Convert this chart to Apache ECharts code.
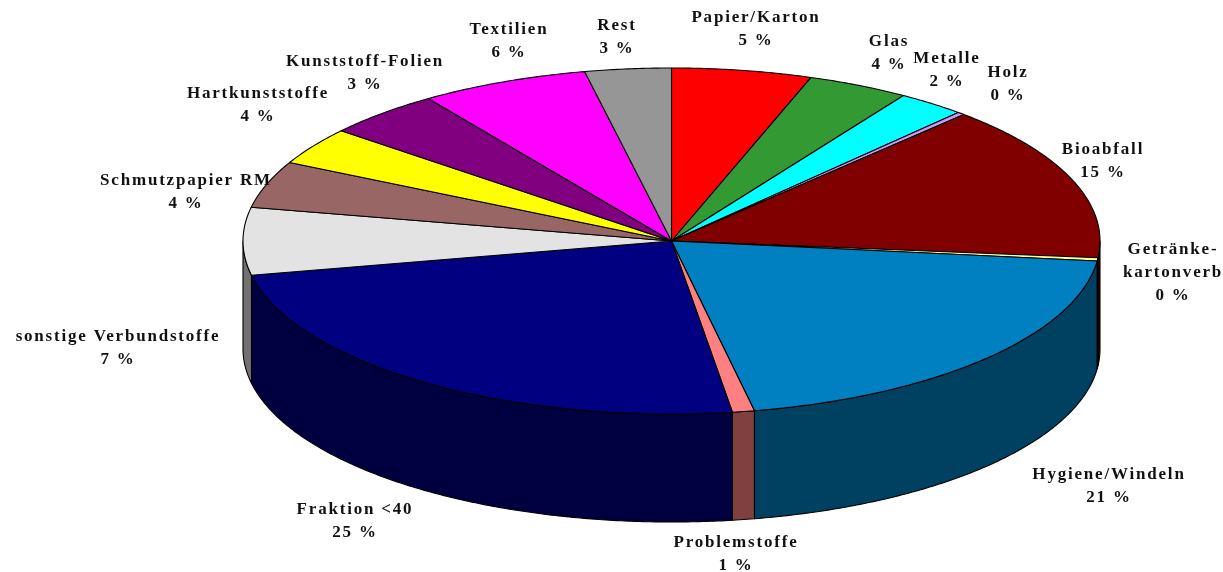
<!DOCTYPE html>
<html>
<head>
<meta charset="utf-8">
<style>html,body{margin:0;padding:0;background:#fff}#c{width:1223px;height:572px}</style>
<script src="https://cdn.jsdelivr.net/npm/echarts@6/dist/echarts.min.js"></script>
</head>
<body>
<div id="c"></div>
<script>
// Data
const categories = ['Papier/Karton','Glas','Metalle','Holz','Bioabfall','Getränke-\nkartonverb','Hygiene/Windeln','Problemstoffe','Fraktion <40','sonstige Verbundstoffe','Schmutzpapier RM','Hartkunststoffe','Kunststoff-Folien','Textilien','Rest'];
const shares = [5.28,3.83,2.56,0.28,14.6,0.3,20.05,0.83,24.1,6.3,4.36,3.5,4.4,6.36,3.25];
const percentLabels = ['5 %','4 %','2 %','0 %','15 %','0 %','21 %','1 %','25 %','7 %','4 %','4 %','3 %','6 %','3 %'];

// Style and layout, kept apart from the data
const topColors = ['#FF0000','#339933','#00FFFF','#CC99FF','#800000','#FFFF99','#0080C0','#FF8080','#000080','#E3E3E3','#996666','#FFFF00','#800080','#FF00FF','#969696'];
const wallColors = ['#800000','#1A4D1A','#008080','#664D80','#400000','#80804D','#004060','#804040','#000040','#717171','#4D3333','#808000','#400040','#800080','#4B4B4B'];
const labelCenters = [[756,29],[889,53],[947,70],[1008,84],[1103,161],[1173,273],[1109,486],[736,554],[355,521],[118,348],[186,192],[258,105],[365,73],[509,41],[617,37]];
const PIE = {cx:671.5, cy:241, rx:428.5, ry:173, depth:108};
const FONT = {family:'"Liberation Serif"', size:17, lineHeight:23, tracking:'1.8px'};

// The reference sets its labels with wide tracking; canvas text gets the same here.
const baseFillText = CanvasRenderingContext2D.prototype.fillText;
CanvasRenderingContext2D.prototype.fillText = function(){
  this.letterSpacing = FONT.tracking;
  return baseFillText.apply(this, arguments);
};

const total = shares.reduce((a,b)=>a+b,0);
function sliceSpan(i){
  let before = 0;
  for(let k=0;k<i;k++) before += shares[k];
  return [before/total*360, (before+shares[i])/total*360];
}
function rim(deg, drop){
  const t = deg*Math.PI/180;
  return [PIE.cx+PIE.rx*Math.sin(t), PIE.cy-PIE.ry*Math.cos(t)+(drop||0)];
}
function arc(a,b,drop){
  const pts=[]; const n=Math.max(2,Math.ceil((b-a)/0.5));
  for(let k=0;k<=n;k++) pts.push(rim(a+(b-a)*k/n,drop));
  return pts;
}
const line = {stroke:'#000', lineWidth:1.1, lineJoin:'round'};

function renderWall(params){
  const i=params.dataIndex; const s=sliceSpan(i);
  const a=Math.max(s[0],90), b=Math.min(s[1],270);
  if(b<=a) return {type:'group',children:[]};
  const pts=arc(a,b,0).concat(arc(a,b,PIE.depth).reverse());
  return {type:'polygon',shape:{points:pts},style:Object.assign({fill:wallColors[i]},line)};
}
function renderTop(params){
  const i=params.dataIndex; const s=sliceSpan(i);
  const pts=[[PIE.cx,PIE.cy]].concat(arc(s[0],s[1],0));
  return {type:'polygon',shape:{points:pts},style:Object.assign({fill:topColors[i]},line)};
}
function renderLabel(params){
  const i=params.dataIndex, c=labelCenters[i];
  return {type:'text',x:c[0],y:c[1],silent:true,z2:10,
    style:{text:categories[i]+'\n'+percentLabels[i],align:'center',verticalAlign:'middle',
      fill:'#111',fontFamily:FONT.family,fontWeight:'bold',fontSize:FONT.size,lineHeight:FONT.lineHeight}};
}
const rows = shares.map((v,i)=>[i,v]);
const chart = echarts.init(document.getElementById('c'),null,{renderer:'canvas'});
chart.setOption({
  animation:false,
  backgroundColor:'#fff',
  series:[
    {type:'custom',coordinateSystem:'none',data:rows,renderItem:renderWall,z:1,silent:true},
    {type:'custom',coordinateSystem:'none',data:rows,renderItem:renderTop,z:2,silent:true},
    {type:'custom',coordinateSystem:'none',data:rows,renderItem:renderLabel,z:3,silent:true}
  ]
});
</script>
</body>
</html>
